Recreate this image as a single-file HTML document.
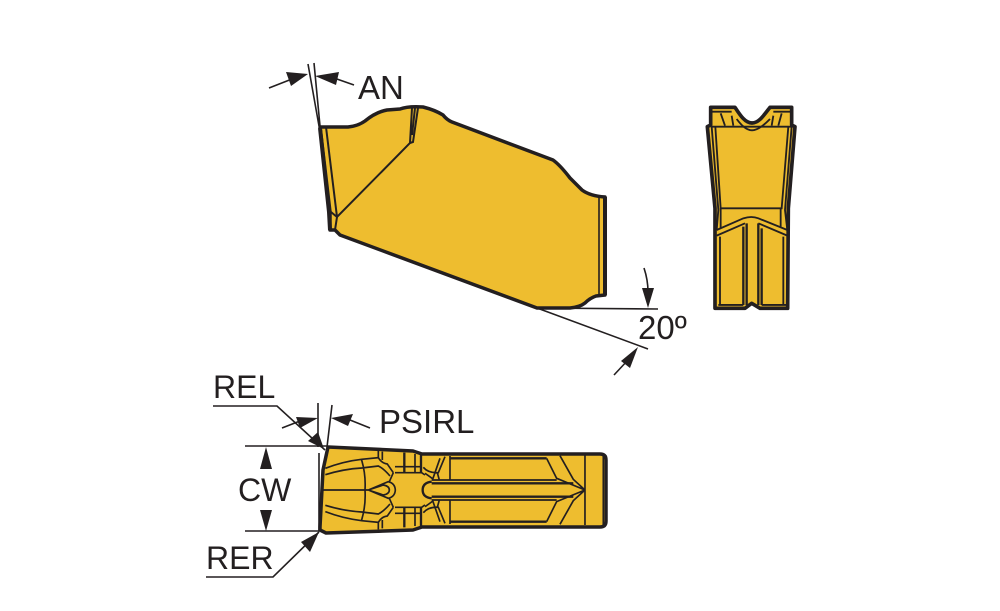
<!DOCTYPE html>
<html><head><meta charset="utf-8"><style>
html,body{margin:0;padding:0;background:#fff}
svg{display:block}
text{font-family:"Liberation Sans",sans-serif;fill:#231f20;font-size:32px}
</style></head><body>
<svg width="1000" height="611" viewBox="0 0 1000 611" xmlns="http://www.w3.org/2000/svg">
<rect width="1000" height="611" fill="#fff"/>

<!-- Main view -->
<path d="M320 127L348 127Q358 126 365 121Q376 112 387 110L400 109Q408 106 423 107Q435 110 443 115Q447 120 452 122L553 160Q560 165 570 178L582 190Q590 196 605 197L605 295L596 296Q590 298 585 303Q580 307 570 308L537 308L340 235L335 230L330 230L330 212Z" fill="#eebd2f" stroke="#231f20" stroke-width="3.5" stroke-linejoin="round"/>
<g fill="none" stroke="#231f20">
<path d="M326 127L337 217L410 143L412 108M418 108L413 142L410 143M415 108L412 135" stroke-width="2"/>
<path d="M331 212L337 217L335 230" stroke-width="2"/>
<path d="M599 197V295" stroke-width="1.6"/>
<path d="M320 128L329 212L330 230" stroke-width="4"/>
<path d="M605 197V295" stroke-width="4"/>
</g>

<!-- Right view -->
<g transform="translate(690 95) scale(.3333)">
<path d="M62 37L135 37C150 60 165 84 186 84C207 84 222 60 240 37L305 37L305 90L315 95L295 340L293 640L210 640L185 625L165 640L75 640L75 340L52 95L62 90Z" fill="#eebd2f" stroke="#231f20" stroke-width="11" stroke-linejoin="round"/>
<g fill="none" stroke="#231f20" stroke-width="5.5">
<path d="M62 95H305M76 95L92 340H275L295 95M65 95L85 345L80 405M305 95L285 345L292 405"/>
<path d="M92 340V400M272 340V395"/>
<path d="M80 405L160 370Q185 362 205 370L292 405M80 422L165 385M205 385L292 422"/>
<path d="M90 425V630M280 425V630M85 630H160M215 630H288"/>
<path d="M160 395V630M170 385V630M205 385V630M215 400V630" stroke-width="7"/>
<path d="M62 50H125M250 50H305M92 55L105 92M125 62L130 92M250 62L245 92M275 55L265 92M140 72Q165 106 186 106Q207 106 240 72"/>
</g>
</g>

<!-- Bottom view -->
<path d="M328 447L413 451L422 454H600Q606 454 606 460V521Q606 527 600 527H422L413 530L326 533L320 530L320 527L323 470Z" fill="#eebd2f" stroke="#231f20" stroke-width="3.5" stroke-linejoin="round"/>
<g transform="translate(310 440) scale(.3333)" fill="none" stroke="#231f20" stroke-width="5">
<g>
<path d="M46 85C85 70 120 62 155 58L205 53Q215 70 232 72L250 98M46 104C85 92 120 86 155 84L205 78Q220 85 240 108M155 60Q168 105 165 150"/>
<path d="M205 32V55M217 35V60"/>
<path d="M175 150L235 125Q255 130 256 150M175 150L220 135Q238 138 238 150M250 98L238 125"/>
<path d="M255 98H335L345 105M255 80H335M315 42V98"/>
<path d="M283 38V98M333 42V100" stroke-width="7"/>
<path d="M340 82Q355 100 385 98L405 50M345 100Q360 110 370 118M382 98L388 120M420 48V120M390 55L368 118"/>
<path d="M365 125Q338 128 338 150" stroke-width="7"/>
<path d="M420 55H710" stroke-width="7"/>
<path d="M710 55L740 115L825 150M750 47L790 118L825 150"/>
<path d="M365 120H740"/>
<path d="M365 130H790" stroke-width="7"/>
<path d="M825 45V150M880 45V150"/>
</g>
<g transform="translate(0 300) scale(1 -1)">
<path d="M46 85C85 70 120 62 155 58L205 53Q215 70 232 72L250 98M46 104C85 92 120 86 155 84L205 78Q220 85 240 108M155 60Q168 105 165 150"/>
<path d="M205 32V55M217 35V60"/>
<path d="M175 150L235 125Q255 130 256 150M175 150L220 135Q238 138 238 150M250 98L238 125"/>
<path d="M255 98H335L345 105M255 80H335M315 42V98"/>
<path d="M283 38V98M333 42V100" stroke-width="7"/>
<path d="M340 82Q355 100 385 98L405 50M345 100Q360 110 370 118M382 98L388 120M420 48V120M390 55L368 118"/>
<path d="M365 125Q338 128 338 150" stroke-width="7"/>
<path d="M420 55H710" stroke-width="7"/>
<path d="M710 55L740 115L825 150M750 47L790 118L825 150"/>
<path d="M365 120H740"/>
<path d="M365 130H790" stroke-width="7"/>
<path d="M825 45V150M880 45V150"/>
</g>
<path d="M40 150H175"/>
</g>

<!-- Dimension lines -->
<g fill="none" stroke="#231f20" stroke-width="1.6">
<path d="M308 64L319 126M314 63L320 126"/>
<path d="M269 88L292 79M354 85L334 78"/>
<path d="M213 406H277L325 450M318 403V447M332 405L327 447"/>
<path d="M282 428L300 421M370 428L350 420"/>
<path d="M245 446H327M245 531H320M319 453V531"/>
<path d="M206 577H273L319 532"/>
<path d="M537 308L658 309M537 308L648 349"/>
<path d="M644 268Q648 280 648 292M614 375L628 360"/>
</g>
<g fill="#231f20">
<path d="M308 74L286 72L291 86Z"/>
<path d="M315 76L339 72L336 85Z"/>
<path d="M324 449L318 432L308 441Z"/>
<path d="M318 418L296 417L300 428Z"/>
<path d="M331 418L353 414L348 426Z"/>
<path d="M266 447L260 469H272Z"/>
<path d="M266 531L260 510H272Z"/>
<path d="M319 532L301 542L310 552Z"/>
<path d="M648 308L642 288H654Z"/>
<path d="M638 347L621 361L630 368Z"/>
</g>

<!-- Labels -->
<text x="358" y="99" style="font-size:33px">AN</text>
<text x="213" y="398">REL</text>
<text x="379" y="433" style="font-size:33px">PSIRL</text>
<text x="238" y="501">CW</text>
<text x="206" y="569">RER</text>
<text x="638" y="339" style="font-size:33px">20º</text>
</svg>
</body></html>
